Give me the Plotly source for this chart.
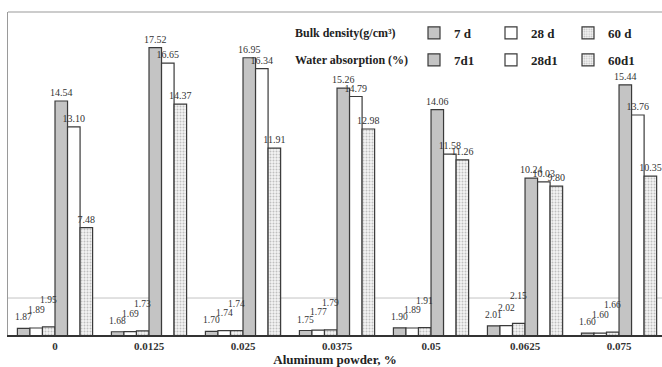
import plotly.graph_objects as go

# Aluminum powder dosage (%) on the category axis
categories = ["0", "0.0125", "0.025", "0.0375", "0.05", "0.0625", "0.075"]

# Bulk density (g/cm3) at 7, 28 and 60 days
density_7d = [1.87, 1.68, 1.70, 1.75, 1.90, 2.01, 1.60]
density_28d = [1.89, 1.69, 1.74, 1.77, 1.89, 2.02, 1.60]
density_60d = [1.95, 1.73, 1.74, 1.79, 1.91, 2.15, 1.66]

# Water absorption (%) at 7, 28 and 60 days
absorption_7d = [14.54, 17.52, 16.95, 15.26, 14.06, 10.24, 15.44]
absorption_28d = [13.10, 16.65, 16.34, 14.79, 11.58, 10.03, 13.76]
absorption_60d = [7.48, 14.37, 11.91, 12.98, 11.26, 9.80, 10.35]

density_names = ["7 d", "28 d", "60 d"]
absorption_names = ["7d1", "28d1", "60d1"]

SERIF = "Liberation Serif"
EDGE = "#3a3a3a"
styles = [
    dict(color="#c4c4c4", line=dict(color=EDGE, width=1.2)),
    dict(color="#ffffff", line=dict(color=EDGE, width=1.2)),
    dict(color="#ffffff", line=dict(color=EDGE, width=1.2),
         pattern=dict(shape=".", fgcolor="#8a8a8a", bgcolor="#f4f4f4",
                      size=3, solidity=0.35)),
]

fig = go.Figure()

for name, vals, st in zip(density_names,
                          [density_7d, density_28d, density_60d], styles):
    fig.add_trace(go.Bar(x=categories, y=vals, name=name, marker=st,
                         legend="legend"))

for name, vals, st in zip(absorption_names,
                          [absorption_7d, absorption_28d, absorption_60d], styles):
    fig.add_trace(go.Bar(
        x=categories, y=vals, name=name, marker=st, legend="legend2",
        text=[f"{v:.2f}" for v in vals], textposition="outside",
        constraintext="none", cliponaxis=False,
        textfont=dict(family=SERIF, size=10, color="#333333"),
    ))

# layout geometry (pixels)
W, H = 662, 367
left, top, bottom = 8, 12, 335
plot_w = W - left
plot_h = bottom - top
x_span = 6.957
cat_px = plot_w / x_span
n_traces = 6
bar_px = cat_px * 0.8 / n_traces


def px_x(p):
    return (p - left) / plot_w


def px_y(p):
    return (bottom - p) / plot_h


# Density values are labelled with staggered annotations above the short bars
lifts = [4, 11, 20]
annotations = []
for i, vals in enumerate([density_7d, density_28d, density_60d]):
    for k, v in enumerate(vals):
        annotations.append(dict(
            x=k, y=v, xref="x", yref="y", text=f"{v:.2f}", showarrow=False,
            xshift=(i - 2.5) * bar_px, yshift=lifts[i], yanchor="bottom",
            font=dict(family=SERIF, size=9.5, color="#333333"),
        ))

# Legend row titles
for text, ypx in [("Bulk density(g/cm³)", 33),
                  ("Water absorption (%)", 60)]:
    annotations.append(dict(
        x=px_x(293), y=px_y(ypx), xref="paper", yref="paper", text=text,
        showarrow=False, xanchor="left", yanchor="middle",
        font=dict(family=SERIF, size=12, color="#222222", weight="bold")))

reference_level = 3.56

legend_style = dict(
    orientation="h", xanchor="left", yanchor="middle",
    font=dict(family=SERIF, size=13, color="#222222", weight="bold"),
    bgcolor="rgba(0,0,0,0)", entrywidth=32, entrywidthmode="pixels",
    itemwidth=30, tracegroupgap=0,
)

fig.update_layout(
    width=W, height=H,
    margin=dict(l=left, r=0, t=top, b=H - bottom, autoexpand=False),
    paper_bgcolor="white", plot_bgcolor="white",
    barmode="group", bargap=0.2, bargroupgap=0,
    showlegend=True,
    legend=dict(x=px_x(414), y=px_y(33), **legend_style),
    legend2=dict(x=px_x(414), y=px_y(60), **legend_style),
    annotations=annotations,
    xaxis=dict(
        type="category", range=[-0.5, -0.5 + x_span],
        showline=True, linecolor="#333333", linewidth=1.5,
        showgrid=False, ticks="",
        tickfont=dict(family=SERIF, size=11, color="#333333", weight="bold"),
        title=dict(text="Aluminum powder, %", standoff=2,
                   font=dict(family=SERIF, size=13, color="#222222",
                             weight="bold")),
    ),
    yaxis=dict(
        range=[1.5, 19.5], showgrid=False, zeroline=False,
        showticklabels=False, ticks="",
        showline=True, linecolor="#9a9a9a", linewidth=1.2,
    ),
    shapes=[
        dict(type="line", xref="paper", yref="paper", x0=0, x1=1, y0=1, y1=1,
             line=dict(color="#9a9a9a", width=1.2)),
        dict(type="line", xref="paper", yref="y", x0=0, x1=1,
             y0=reference_level, y1=reference_level, layer="below",
             line=dict(color="#c4c4c4", width=1)),
    ],
)

fig.write_html("out.html")
